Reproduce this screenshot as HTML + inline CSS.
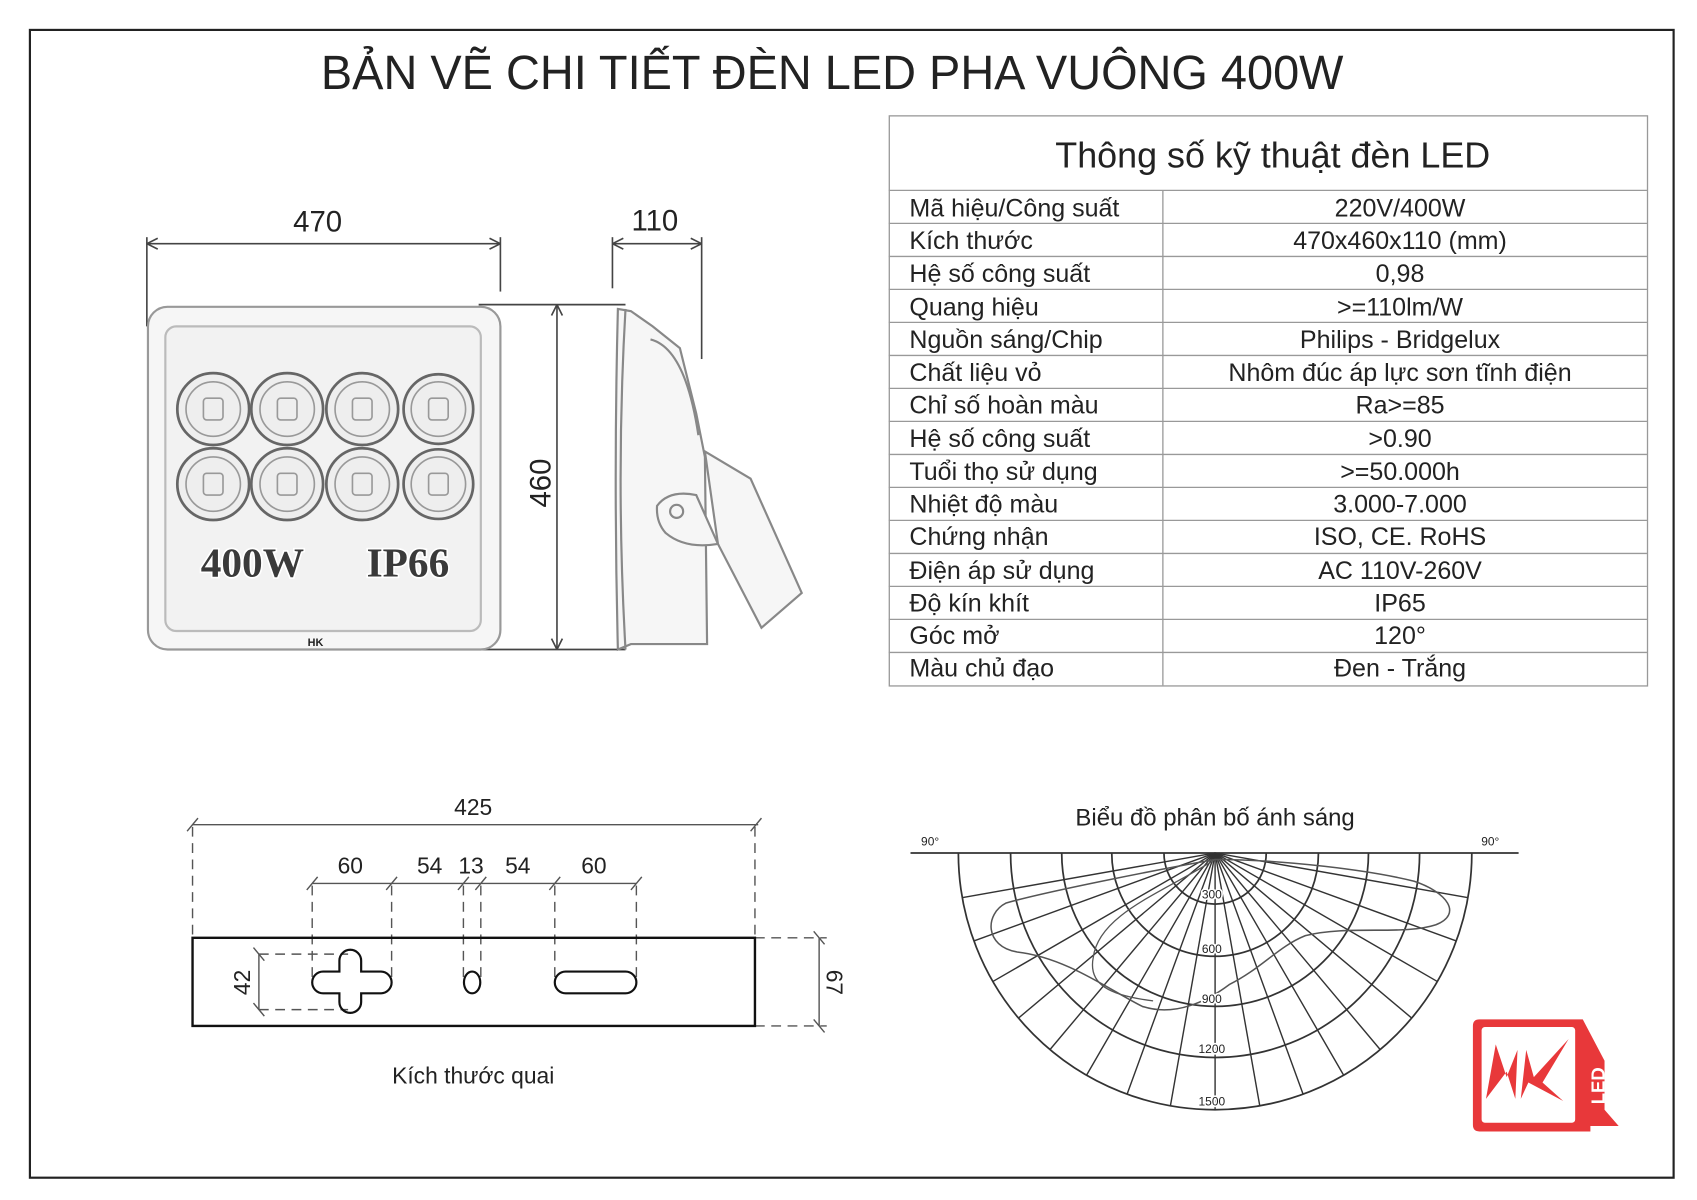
<!DOCTYPE html>
<html><head><meta charset="utf-8"><style>
html,body{margin:0;padding:0;background:#fff;}
svg{display:block;}
text{font-family:"Liberation Sans","DejaVu Sans",sans-serif;fill:#222;}
</style></head><body>
<svg width="1697" height="1200" viewBox="0 0 1560 1103" preserveAspectRatio="none" xmlns="http://www.w3.org/2000/svg">
<rect x="0" y="0" width="1560" height="1103" fill="#fff"/>
<rect x="27.5" y="27.5" width="1511" height="1055" fill="none" stroke="#222" stroke-width="2"/>
<text x="765" y="82" font-size="44" text-anchor="middle" textLength="940" lengthAdjust="spacingAndGlyphs">BẢN VẼ CHI TIẾT ĐÈN LED PHA VUÔNG 400W</text>

<!-- table -->
<g stroke="#999" stroke-width="1.2" fill="none">
<rect x="817.5" y="106.5" width="697" height="524"/>
<line x1="1069" y1="175" x2="1069" y2="630"/>
<line x1="817" y1="175" x2="1514" y2="175"/>
<line x1="817" y1="205.3" x2="1514" y2="205.3"/>
<line x1="817" y1="235.7" x2="1514" y2="235.7"/>
<line x1="817" y1="266" x2="1514" y2="266"/>
<line x1="817" y1="296.3" x2="1514" y2="296.3"/>
<line x1="817" y1="326.7" x2="1514" y2="326.7"/>
<line x1="817" y1="357" x2="1514" y2="357"/>
<line x1="817" y1="387.3" x2="1514" y2="387.3"/>
<line x1="817" y1="417.7" x2="1514" y2="417.7"/>
<line x1="817" y1="448" x2="1514" y2="448"/>
<line x1="817" y1="478.3" x2="1514" y2="478.3"/>
<line x1="817" y1="508.7" x2="1514" y2="508.7"/>
<line x1="817" y1="539" x2="1514" y2="539"/>
<line x1="817" y1="569.3" x2="1514" y2="569.3"/>
<line x1="817" y1="599.7" x2="1514" y2="599.7"/>
</g>
<text x="1170" y="154" font-size="33" text-anchor="middle">Thông số kỹ thuật đèn LED</text>
<g font-size="23">
<text x="836" y="199">Mã hiệu/Công suất</text>
<text x="836" y="229">Kích thước</text>
<text x="836" y="259">Hệ số công suất</text>
<text x="836" y="290">Quang hiệu</text>
<text x="836" y="320">Nguồn sáng/Chip</text>
<text x="836" y="350">Chất liệu vỏ</text>
<text x="836" y="380">Chỉ số hoàn màu</text>
<text x="836" y="411">Hệ số công suất</text>
<text x="836" y="441">Tuổi thọ sử dụng</text>
<text x="836" y="471">Nhiệt độ màu</text>
<text x="836" y="501">Chứng nhận</text>
<text x="836" y="532">Điện áp sử dụng</text>
<text x="836" y="562">Độ kín khít</text>
<text x="836" y="592">Góc mở</text>
<text x="836" y="622">Màu chủ đạo</text>
</g>
<g font-size="23" text-anchor="middle">
<text x="1287" y="199">220V/400W</text>
<text x="1287" y="229">470x460x110 (mm)</text>
<text x="1287" y="259">0,98</text>
<text x="1287" y="290">&gt;=110lm/W</text>
<text x="1287" y="320">Philips - Bridgelux</text>
<text x="1287" y="350">Nhôm đúc áp lực sơn tĩnh điện</text>
<text x="1287" y="380">Ra&gt;=85</text>
<text x="1287" y="411">&gt;0.90</text>
<text x="1287" y="441">&gt;=50.000h</text>
<text x="1287" y="471">3.000-7.000</text>
<text x="1287" y="501">ISO, CE. RoHS</text>
<text x="1287" y="532">AC 110V-260V</text>
<text x="1287" y="562">IP65</text>
<text x="1287" y="592">120°</text>
<text x="1287" y="622">Đen - Trắng</text>
</g>

<!-- lamp front -->
<g fill="none" stroke="#444" stroke-width="1.5">
<line x1="135" y1="218" x2="135" y2="300"/>
<line x1="460" y1="218" x2="460" y2="268"/>
<line x1="135" y1="224" x2="460" y2="224"/>
<path d="M135 224 l10 -5 M135 224 l10 5 M460 224 l-10 -5 M460 224 l-10 5"/>
<line x1="563" y1="218" x2="563" y2="265"/>
<line x1="645" y1="218" x2="645" y2="330"/>
<line x1="563" y1="224" x2="645" y2="224"/>
<path d="M563 224 l10 -5 M563 224 l10 5 M645 224 l-10 -5 M645 224 l-10 5"/>
<line x1="440" y1="280" x2="575" y2="280"/>
<line x1="440" y1="597" x2="575" y2="597"/>
<line x1="512" y1="280" x2="512" y2="597"/>
<path d="M512 280 l-5 10 M512 280 l5 10 M512 597 l-5 -10 M512 597 l5 -10"/>
</g>
<text x="292" y="213" font-size="27" text-anchor="middle">470</text>
<text x="602" y="212" font-size="27" text-anchor="middle">110</text>
<text x="0" y="0" font-size="27" text-anchor="middle" transform="translate(506,444) rotate(-90)">460</text>

<g fill="#f6f6f6" stroke="#999" stroke-width="2">
<rect x="136" y="282" width="324" height="315" rx="18"/>
<rect x="152" y="300" width="290" height="280" rx="10" fill="#f2f2f2" stroke="#bbb"/>
</g>
<g fill="#eee" stroke="#666" stroke-width="2.5">
<circle cx="196" cy="376" r="33"/><circle cx="264" cy="376" r="33"/><circle cx="333" cy="376" r="33"/><circle cx="403" cy="376" r="32"/>
<circle cx="196" cy="445" r="33"/><circle cx="264" cy="445" r="33"/><circle cx="333" cy="445" r="33"/><circle cx="403" cy="445" r="32"/>
</g>
<g fill="none" stroke="#999" stroke-width="1.5">
<circle cx="196" cy="376" r="25"/><circle cx="264" cy="376" r="25"/><circle cx="333" cy="376" r="25"/><circle cx="403" cy="376" r="25"/>
<circle cx="196" cy="445" r="25"/><circle cx="264" cy="445" r="25"/><circle cx="333" cy="445" r="25"/><circle cx="403" cy="445" r="25"/>
<rect x="187" y="366" width="18" height="20" rx="3"/><rect x="255" y="366" width="18" height="20" rx="3"/><rect x="324" y="366" width="18" height="20" rx="3"/><rect x="394" y="366" width="18" height="20" rx="3"/>
<rect x="187" y="435" width="18" height="20" rx="3"/><rect x="255" y="435" width="18" height="20" rx="3"/><rect x="324" y="435" width="18" height="20" rx="3"/><rect x="394" y="435" width="18" height="20" rx="3"/>
</g>
<g font-weight="bold" font-size="38" text-anchor="middle" stroke="#fff" stroke-width="3" style="paint-order:stroke">
<text x="232" y="530" style="font-family:'Liberation Serif',serif;fill:#3a3a3a">400W</text>
<text x="375" y="530" style="font-family:'Liberation Serif',serif;fill:#3a3a3a">IP66</text>
</g>
<text x="290" y="594" font-size="10" font-weight="bold" text-anchor="middle">HK</text>

<!-- side view -->
<g fill="#f6f6f6" stroke="#888" stroke-width="2">
<path d="M568 284 L580 286 L600 300 L625 320 L640 380 L648 420 L650 592 L580 592 L568 597 Q564 440 568 284 Z"/>
<path d="M575 284 Q566 440 575 597" fill="none"/>
<path d="M598 312 Q630 320 642 400" fill="none"/>
<path d="M648 415 L690 440 L737 545 L700 577 L660 500 Z"/>
<path d="M604 465 Q615 450 640 455 L660 500 Q630 505 612 490 Q603 480 604 465 Z"/>
<circle cx="622" cy="470" r="6" fill="none"/>
</g>

<!-- bracket -->
<g fill="none" stroke="#555" stroke-width="1.3">
<line x1="177" y1="758" x2="697" y2="758"/>
<path d="M172 764 l10 -12 M690 764 l10 -12"/>
<g stroke-dasharray="9,6">
<line x1="177" y1="760" x2="177" y2="862"/>
<line x1="694" y1="760" x2="694" y2="862"/>
<line x1="287" y1="814" x2="287" y2="905"/>
<line x1="360" y1="814" x2="360" y2="905"/>
<line x1="426" y1="814" x2="426" y2="900"/>
<line x1="442" y1="814" x2="442" y2="900"/>
<line x1="510" y1="814" x2="510" y2="903"/>
<line x1="585" y1="814" x2="585" y2="903"/>
<line x1="238" y1="877" x2="320" y2="877"/>
<line x1="238" y1="928" x2="320" y2="928"/>
<line x1="694" y1="862" x2="760" y2="862"/>
<line x1="694" y1="943" x2="760" y2="943"/>
</g>
<line x1="287" y1="812" x2="585" y2="812"/>
<path d="M282 818 l10 -12 M355 818 l10 -12 M421 818 l10 -12 M437 818 l10 -12 M505 818 l10 -12 M580 818 l10 -12"/>
<line x1="238" y1="877" x2="238" y2="928"/>
<path d="M233 871 l10 12 M233 922 l10 12"/>
<line x1="753" y1="862" x2="753" y2="943"/>
<path d="M748 856 l10 12 M748 937 l10 12"/>
</g>
<rect x="177" y="862" width="517" height="81" fill="none" stroke="#111" stroke-width="2.2"/>
<g fill="none" stroke="#111" stroke-width="2">
<path d="M312 893 V883 a10 10 0 0 1 20 0 V893 H350 a10 10 0 0 1 0 20 H332 V921 a10 10 0 0 1 -20 0 V913 H297 a10 10 0 0 1 0 -20 Z"/>
<ellipse cx="434" cy="903" rx="7.5" ry="10"/>
<rect x="510" y="893" width="75" height="20" rx="10"/>
</g>
<g font-size="21" text-anchor="middle">
<text x="435" y="749">425</text>
<text x="322" y="803">60</text>
<text x="395" y="803">54</text>
<text x="433" y="803">13</text>
<text x="476" y="803">54</text>
<text x="546" y="803">60</text>
<text x="0" y="0" transform="translate(230,903) rotate(-90)">42</text>
<text x="0" y="0" transform="translate(760,903) rotate(90)">67</text>
<text x="435" y="996">Kích thước quai</text>
</g>

<!-- polar -->
<text x="1117" y="759" font-size="22" text-anchor="middle">Biểu đồ phân bố ánh sáng</text>
<text x="855" y="777" font-size="11" text-anchor="middle">90°</text>
<text x="1370" y="777" font-size="11" text-anchor="middle">90°</text>
<g fill="none" stroke="#333" stroke-width="1.6">
<line x1="837" y1="784" x2="1396" y2="784"/>
<path d="M1070 784 A47 47 0 0 0 1164 784"/>
<path d="M1022 784 A95 95 0 0 0 1212 784"/>
<path d="M976 784 A141 141 0 0 0 1258 784"/>
<path d="M929 784 A188 188 0 0 0 1305 784"/>
<path d="M881 784 A236 236 0 0 0 1353 784"/>
<g stroke-width="1.3">
<line x1="1117" y1="784" x2="1117" y2="1020"/>
<line x1="1117" y1="784" x2="1076" y2="1016"/><line x1="1117" y1="784" x2="1158" y2="1016"/>
<line x1="1117" y1="784" x2="1036" y2="1006"/><line x1="1117" y1="784" x2="1198" y2="1006"/>
<line x1="1117" y1="784" x2="999" y2="988"/><line x1="1117" y1="784" x2="1235" y2="988"/>
<line x1="1117" y1="784" x2="965" y2="965"/><line x1="1117" y1="784" x2="1269" y2="965"/>
<line x1="1117" y1="784" x2="936" y2="936"/><line x1="1117" y1="784" x2="1298" y2="936"/>
<line x1="1117" y1="784" x2="913" y2="902"/><line x1="1117" y1="784" x2="1321" y2="902"/>
<line x1="1117" y1="784" x2="895" y2="865"/><line x1="1117" y1="784" x2="1339" y2="865"/>
<line x1="1117" y1="784" x2="885" y2="825"/><line x1="1117" y1="784" x2="1349" y2="825"/>
</g>
<path stroke="#555" stroke-width="1.4" d="M1117 790 C1060 800 960 820 925 830 C905 840 905 870 935 875 C980 880 1020 910 1050 925 C1080 935 1110 920 1130 905 C1160 890 1175 870 1200 860 C1240 850 1290 860 1320 850 C1345 840 1330 820 1300 810 C1260 800 1180 790 1117 790 Z"/>
<path stroke="#555" stroke-width="1.2" d="M1117 790 C1070 820 1010 840 1005 880 C1000 905 1020 915 1060 920"/>
</g>
<g font-size="11" text-anchor="middle" style="paint-order:stroke" stroke="#fff" stroke-width="3">
<text x="1114" y="826">300</text>
<text x="1114" y="876">600</text>
<text x="1114" y="922">900</text>
<text x="1114" y="968">1200</text>
<text x="1114" y="1016">1500</text>
</g>

<!-- logo -->
<path d="M1360 937 H1455 L1475 975 V1020 L1488 1035 H1462 V1040 H1360 Q1354 1040 1354 1034 V943 Q1354 937 1360 937 Z" fill="#e8383a"/>
<rect x="1362" y="944" width="86" height="88" rx="3" fill="#fff"/>
<path d="M1366 1010 L1375 960 L1385 990 L1395 965 L1393 1010 L1385 985 Z M1398 1010 L1403 965 L1410 990 L1442 955 L1418 995 L1437 1012 L1405 995 Z" fill="#e8383a"/>
<text x="0" y="0" transform="translate(1475,998) rotate(-90)" font-size="17" font-weight="bold" text-anchor="middle" style="fill:#fff">LED</text>
</svg>
</body></html>
